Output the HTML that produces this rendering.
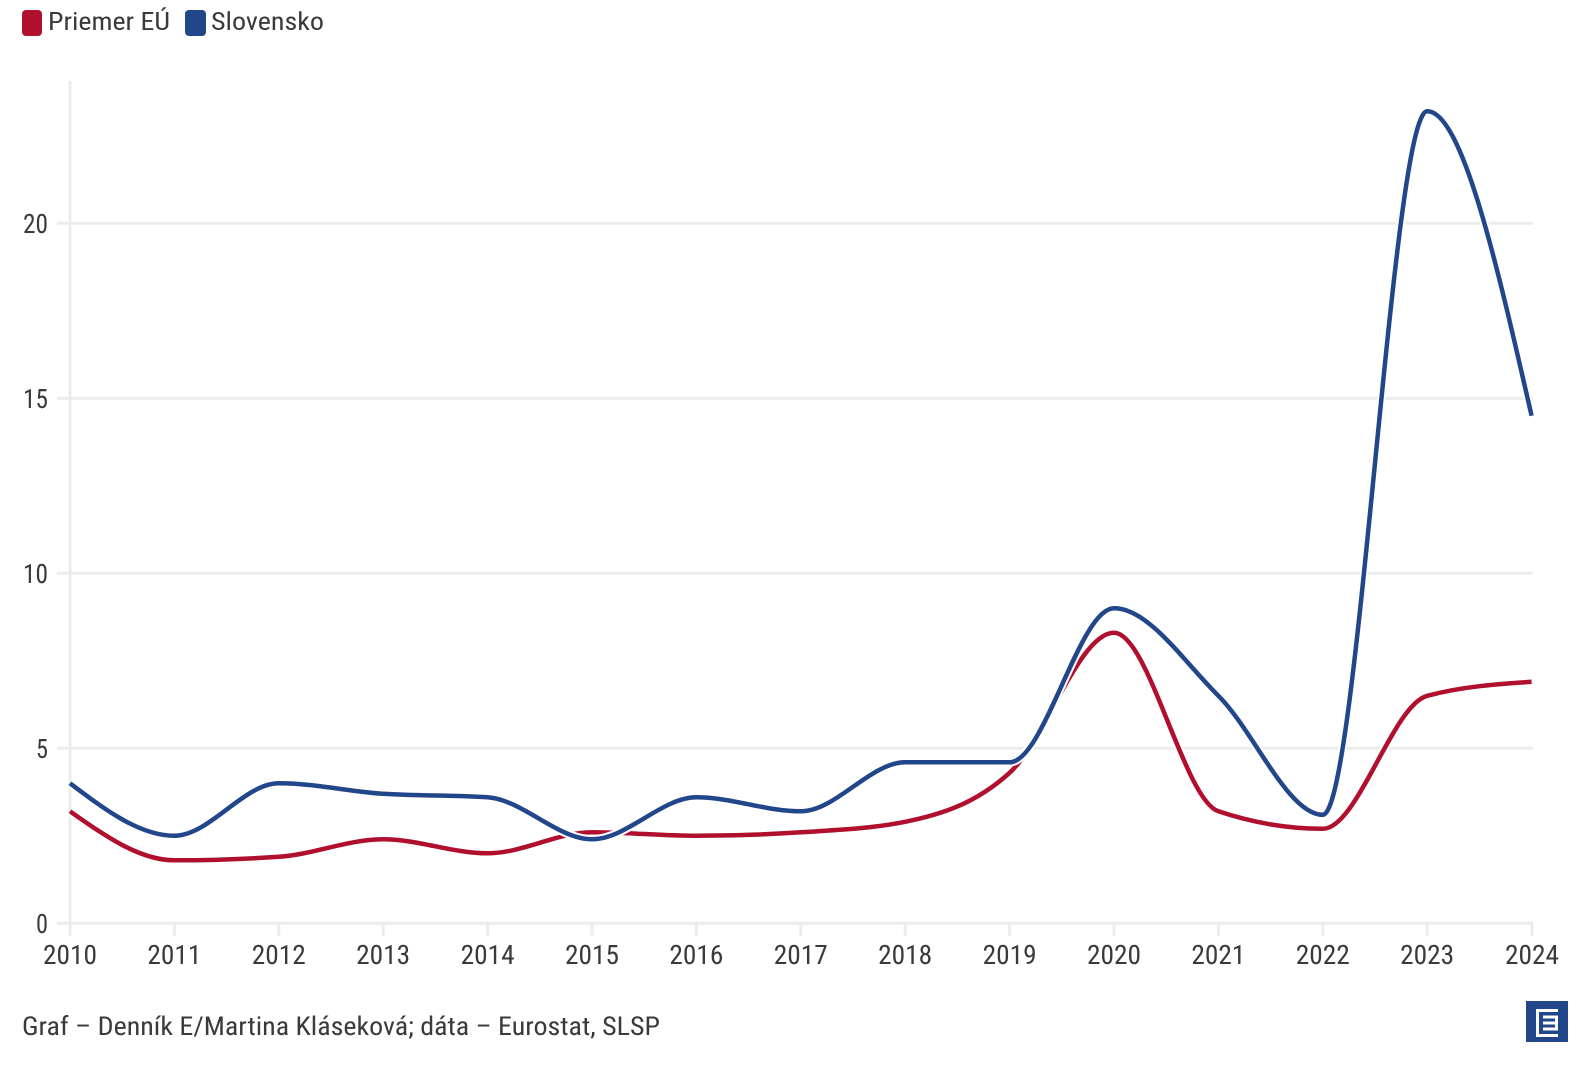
<!DOCTYPE html>
<html>
<head>
<meta charset="utf-8">
<style>
  html, body { margin:0; padding:0; background:#ffffff; }
  body { width:1588px; height:1072px; overflow:hidden; }
  svg { display:block; }
  text { font-family: "Roboto Condensed", "Liberation Sans Narrow", "Liberation Sans", "DejaVu Sans Condensed", sans-serif; fill:#3a3a3a; }
</style>
</head>
<body>
<svg width="1588" height="1072" viewBox="0 0 1588 1072" xmlns="http://www.w3.org/2000/svg">
  <rect x="0" y="0" width="1588" height="1072" fill="#ffffff"/>

  <!-- Legend -->
  <rect x="22" y="10" width="20" height="26" rx="4" ry="4" fill="#b0102e"/>
  <text x="48" y="30" font-size="25" textLength="122" lengthAdjust="spacingAndGlyphs">Priemer EÚ</text>
  <rect x="185" y="10" width="21" height="26" rx="4" ry="4" fill="#22468a"/>
  <text x="211" y="30" font-size="25" textLength="113" lengthAdjust="spacingAndGlyphs">Slovensko</text>

  <!-- Gridlines -->
  <g stroke="#ececec" stroke-width="3" fill="none">
    <line x1="57" y1="223.3" x2="1533" y2="223.3"/>
    <line x1="57" y1="398.3" x2="1533" y2="398.3"/>
    <line x1="57" y1="573.3" x2="1533" y2="573.3"/>
    <line x1="57" y1="748.3" x2="1533" y2="748.3"/>
    <line x1="57" y1="923.3" x2="1533" y2="923.3"/>
    <line x1="70" y1="81" x2="70" y2="923.3"/>
  </g>
  <!-- x ticks -->
  <g stroke="#ececec" stroke-width="3">
    <line x1="70" y1="923" x2="70" y2="936"/>
    <line x1="174.4" y1="923" x2="174.4" y2="936"/>
    <line x1="278.8" y1="923" x2="278.8" y2="936"/>
    <line x1="383.2" y1="923" x2="383.2" y2="936"/>
    <line x1="487.6" y1="923" x2="487.6" y2="936"/>
    <line x1="592" y1="923" x2="592" y2="936"/>
    <line x1="696.4" y1="923" x2="696.4" y2="936"/>
    <line x1="800.8" y1="923" x2="800.8" y2="936"/>
    <line x1="905.2" y1="923" x2="905.2" y2="936"/>
    <line x1="1009.6" y1="923" x2="1009.6" y2="936"/>
    <line x1="1114" y1="923" x2="1114" y2="936"/>
    <line x1="1218.4" y1="923" x2="1218.4" y2="936"/>
    <line x1="1322.8" y1="923" x2="1322.8" y2="936"/>
    <line x1="1427.2" y1="923" x2="1427.2" y2="936"/>
    <line x1="1532" y1="923" x2="1532" y2="936"/>
  </g>

  <!-- Y labels -->
  <g font-size="27" text-anchor="end">
    <text x="48" y="233" textLength="25" lengthAdjust="spacingAndGlyphs">20</text>
    <text x="48" y="408" textLength="25" lengthAdjust="spacingAndGlyphs">15</text>
    <text x="48" y="583" textLength="25" lengthAdjust="spacingAndGlyphs">10</text>
    <text x="48" y="758" textLength="12" lengthAdjust="spacingAndGlyphs">5</text>
    <text x="48" y="933" textLength="12" lengthAdjust="spacingAndGlyphs">0</text>
  </g>

  <!-- X labels -->
  <g font-size="27" text-anchor="middle">
    <text x="70" y="964" textLength="54" lengthAdjust="spacingAndGlyphs">2010</text>
    <text x="174.4" y="964" textLength="54" lengthAdjust="spacingAndGlyphs">2011</text>
    <text x="278.8" y="964" textLength="54" lengthAdjust="spacingAndGlyphs">2012</text>
    <text x="383.2" y="964" textLength="54" lengthAdjust="spacingAndGlyphs">2013</text>
    <text x="487.6" y="964" textLength="54" lengthAdjust="spacingAndGlyphs">2014</text>
    <text x="592" y="964" textLength="54" lengthAdjust="spacingAndGlyphs">2015</text>
    <text x="696.4" y="964" textLength="54" lengthAdjust="spacingAndGlyphs">2016</text>
    <text x="800.8" y="964" textLength="54" lengthAdjust="spacingAndGlyphs">2017</text>
    <text x="905.2" y="964" textLength="54" lengthAdjust="spacingAndGlyphs">2018</text>
    <text x="1009.6" y="964" textLength="54" lengthAdjust="spacingAndGlyphs">2019</text>
    <text x="1114" y="964" textLength="54" lengthAdjust="spacingAndGlyphs">2020</text>
    <text x="1218.4" y="964" textLength="54" lengthAdjust="spacingAndGlyphs">2021</text>
    <text x="1322.8" y="964" textLength="54" lengthAdjust="spacingAndGlyphs">2022</text>
    <text x="1427.2" y="964" textLength="54" lengthAdjust="spacingAndGlyphs">2023</text>
    <text x="1532" y="964" textLength="54" lengthAdjust="spacingAndGlyphs">2024</text>
  </g>

  <!-- Series: Priemer EÚ (red) -->
  <path d="M70,811.3 C104.8,835.8 139.6,860.3 174.4,860.3 C209.2,860.3 244,859.13 278.8,856.8 C313.6,854.47 348.4,839.3 383.2,839.3 C418,839.3 452.8,853.3 487.6,853.3 C522.4,853.3 557.2,832.3 592,832.3 C626.8,832.3 661.6,835.8 696.4,835.8 C731.2,835.8 766,834.63 800.8,832.3 C835.6,829.97 870.4,828.8 905.2,821.8 C940,814.8 974.8,804.3 1009.6,772.8 C1044.4,741.3 1079.2,632.8 1114,632.8 C1148.8,632.8 1183.6,799.63 1218.4,811.3 C1253.2,822.97 1288,828.8 1322.8,828.8 C1357.6,828.8 1392.4,705.13 1427.2,695.8 C1462,686.47 1496.8,684.13 1531.6,681.8"
        fill="none" stroke="#ffffff" stroke-width="8.5" stroke-linejoin="round"/>
  <path d="M70,811.3 C104.8,835.8 139.6,860.3 174.4,860.3 C209.2,860.3 244,859.13 278.8,856.8 C313.6,854.47 348.4,839.3 383.2,839.3 C418,839.3 452.8,853.3 487.6,853.3 C522.4,853.3 557.2,832.3 592,832.3 C626.8,832.3 661.6,835.8 696.4,835.8 C731.2,835.8 766,834.63 800.8,832.3 C835.6,829.97 870.4,828.8 905.2,821.8 C940,814.8 974.8,804.3 1009.6,772.8 C1044.4,741.3 1079.2,632.8 1114,632.8 C1148.8,632.8 1183.6,799.63 1218.4,811.3 C1253.2,822.97 1288,828.8 1322.8,828.8 C1357.6,828.8 1392.4,705.13 1427.2,695.8 C1462,686.47 1496.8,684.13 1531.6,681.8"
        fill="none" stroke="#b0102e" stroke-width="4.5" stroke-linejoin="round"/>

  <!-- Series: Slovensko (blue) -->
  <path d="M70,783.3 C104.8,809.55 139.6,835.8 174.4,835.8 C209.2,835.8 244,783.3 278.8,783.3 C313.6,783.3 348.4,791.47 383.2,793.8 C418,796.13 452.8,794.97 487.6,797.3 C522.4,799.63 557.2,839.3 592,839.3 C626.8,839.3 661.6,797.3 696.4,797.3 C731.2,797.3 766,811.3 800.8,811.3 C835.6,811.3 870.4,762.3 905.2,762.3 C940,762.3 974.8,762.3 1009.6,762.3 C1044.4,762.3 1079.2,608.3 1114,608.3 C1148.8,608.3 1183.6,661.4 1218.4,695.8 C1253.2,730.22 1288,814.8 1322.8,814.8 C1357.6,814.8 1392.4,111.3 1427.2,111.3 C1462,111.3 1496.8,263.55 1531.6,415.8"
        fill="none" stroke="#ffffff" stroke-width="8.5" stroke-linejoin="round"/>
  <path d="M70,783.3 C104.8,809.55 139.6,835.8 174.4,835.8 C209.2,835.8 244,783.3 278.8,783.3 C313.6,783.3 348.4,791.47 383.2,793.8 C418,796.13 452.8,794.97 487.6,797.3 C522.4,799.63 557.2,839.3 592,839.3 C626.8,839.3 661.6,797.3 696.4,797.3 C731.2,797.3 766,811.3 800.8,811.3 C835.6,811.3 870.4,762.3 905.2,762.3 C940,762.3 974.8,762.3 1009.6,762.3 C1044.4,762.3 1079.2,608.3 1114,608.3 C1148.8,608.3 1183.6,661.4 1218.4,695.8 C1253.2,730.22 1288,814.8 1322.8,814.8 C1357.6,814.8 1392.4,111.3 1427.2,111.3 C1462,111.3 1496.8,263.55 1531.6,415.8"
        fill="none" stroke="#22468a" stroke-width="4.5" stroke-linejoin="round"/>

  <!-- Footer -->
  <text x="22" y="1035" font-size="26" textLength="638" lengthAdjust="spacingAndGlyphs">Graf – Denník E/Martina Kláseková; dáta – Eurostat, SLSP</text>

  <!-- Logo -->
  <rect x="1526" y="1001" width="42" height="41" fill="#22468a"/>
  <g fill="none" stroke="#ffffff" stroke-width="3">
    <polyline points="1558,1010.5 1537.5,1010.5 1537.5,1035.5 1558,1035.5"/>
    <polyline points="1543,1017 1556.5,1017 1556.5,1029 1543,1029"/>
    <line x1="1543" y1="1023" x2="1556.5" y2="1023"/>
  </g>
</svg>
</body>
</html>
